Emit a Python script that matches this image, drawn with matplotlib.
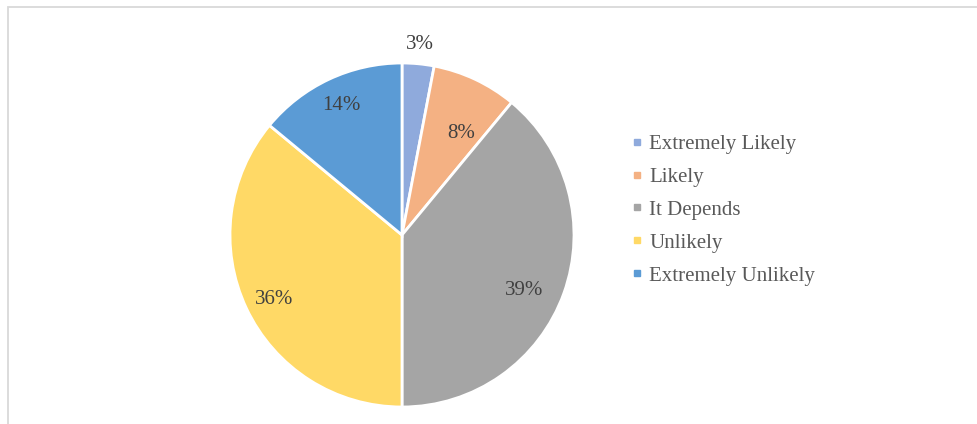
import numpy as np
import matplotlib
matplotlib.use('Agg')
import matplotlib.pyplot as plt
from matplotlib.lines import Line2D
from matplotlib.patches import Rectangle

categories = ['Extremely Likely', 'Likely', 'It Depends', 'Unlikely', 'Extremely Unlikely']
shares = [3, 8, 39, 36, 14]
colors = ['#8FAADC', '#F4B183', '#A5A5A5', '#FFD966', '#5B9BD5']

# label placement: distance from centre (fraction of radius) and clockwise nudge in degrees
label_radius = [1.11, 0.68, 0.78, 0.83, 0.83]
label_nudge = [0, 5, 4.6, -1.5, 0]

plt.rcParams['font.family'] = ['Liberation Serif', 'DejaVu Serif']

W, H = 977, 424
fig = plt.figure(figsize=(W / 100, H / 100), dpi=100)

# thin grey chart-area border, open on right and bottom
fig.patches.append(Rectangle((7.5 / W, -0.05), 1.1, 1 - 6.5 / H + 0.05,
                             transform=fig.transFigure, fill=False,
                             edgecolor='#D9D9D9', linewidth=1.3))

cx, cy, r = 402, 235, 172
ax = fig.add_axes([(cx - r) / W, (H - cy - r) / H, 2 * r / W, 2 * r / H])
wedges, _ = ax.pie(shares, colors=colors, startangle=90, counterclock=False,
                   radius=1, wedgeprops=dict(edgecolor='white', linewidth=2))
ax.set_xlim(-1, 1)
ax.set_ylim(-1, 1)
ax.set_aspect('equal')
ax.axis('off')

for w, val, rd, nd in zip(wedges, shares, label_radius, label_nudge):
    mid = np.deg2rad((w.theta1 + w.theta2) / 2 - nd)
    ax.text(rd * np.cos(mid), rd * np.sin(mid), f'{val}%', ha='center', va='center',
            fontsize=15, color='#404040', clip_on=False)

handles = [Line2D([], [], marker='s', linestyle='none', markersize=5,
                  markerfacecolor=c, markeredgecolor=c) for c in colors]
fig.legend(handles, categories, loc='center left', bbox_to_anchor=(620 / W, 1 - 210 / H),
           frameon=False, fontsize=15, labelcolor='#595959', handlelength=0.6,
           handletextpad=0.3, labelspacing=0.64, borderpad=0)

fig.savefig('out.png', dpi=100, facecolor='white')
